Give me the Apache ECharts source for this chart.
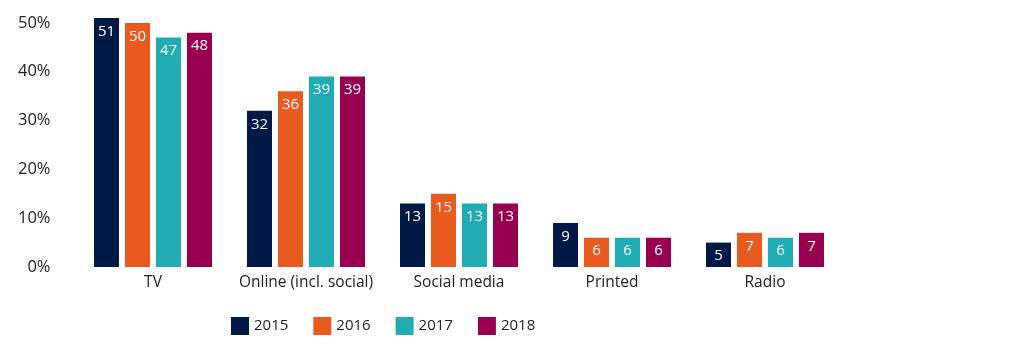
<!DOCTYPE html>
<html><head><meta charset="utf-8">
<script src="https://cdn.jsdelivr.net/npm/echarts@6/dist/echarts.min.js"></script>
<style>html,body{margin:0;padding:0;background:#fff}#c{width:1034px;height:356px}</style>
</head><body><div id="c"></div>
<script>
const categories = ['TV', 'Online (incl. social)', 'Social media', 'Printed', 'Radio'];
const years = ['2015', '2016', '2017', '2018'];
const v2015 = [51, 32, 13, 9, 5];
const v2016 = [50, 36, 15, 6, 7];
const v2017 = [47, 39, 13, 6, 6];
const v2018 = [48, 39, 13, 6, 7];
const colors = ['#001845', '#E95A1F', '#1FADB3', '#98004F'];
const seriesData = [v2015, v2016, v2017, v2018];
const font = '"Open Sans", sans-serif';

const chart = echarts.init(document.getElementById('c'), null, {renderer: 'canvas'});
chart.setOption({
  animation: false,
  textStyle: {fontFamily: font},
  grid: {left: 76.5, width: 765, top: 18, height: 249},
  legend: {
    left: 226, top: 312, itemWidth: 18, itemHeight: 18, itemGap: 25,
    icon: 'rect',
    textStyle: {fontFamily: font, fontSize: 15, color: '#222'},
    data: years
  },
  xAxis: {
    type: 'category', data: categories,
    axisLine: {show: false}, axisTick: {show: false},
    axisLabel: {interval: 0, fontFamily: font, fontSize: 15.5, color: '#222', margin: 8}
  },
  yAxis: {
    type: 'value', min: 0, max: 51, interval: 10,
    splitLine: {show: false}, axisLine: {show: false}, axisTick: {show: false},
    axisLabel: {formatter: '{value}%', showMaxLabel: false, fontFamily: font, fontSize: 16.5, color: '#222', margin: 26}
  },
  series: years.map((y, i) => ({
    name: y, type: 'bar', data: seriesData[i], barWidth: 25, barGap: '24%',
    itemStyle: {color: colors[i]},
    label: {show: true, position: 'insideTop', distance: 6, color: '#fff', fontSize: 15, fontFamily: font}
  }))
});
</script></body></html>
